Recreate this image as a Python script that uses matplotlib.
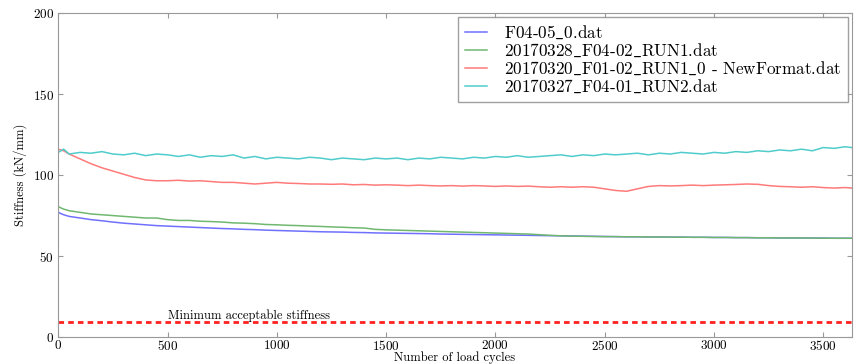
import matplotlib
matplotlib.use("Agg")
import matplotlib.pyplot as plt

plt.rcParams['font.family'] = ['cmr10', 'DejaVu Serif']
plt.rcParams['mathtext.fontset'] = 'cm'
plt.rcParams['axes.formatter.use_mathtext'] = True

cycles = [0, 25, 50, 100, 150, 200, 250, 300, 350, 400, 450, 500, 550, 600, 650, 700, 750, 800,
          850, 900, 950, 1000, 1050, 1100, 1150, 1200, 1250, 1300, 1350, 1400, 1450, 1500, 1550,
          1600, 1650, 1700, 1750, 1800, 1850, 1900, 1950, 2000, 2050, 2100, 2150, 2200, 2250, 2300,
          2350, 2400, 2450, 2500, 2550, 2600, 2650, 2700, 2750, 2800, 2850, 2900, 2950, 3000, 3050,
          3100, 3150, 3200, 3250, 3300, 3350, 3400, 3450, 3500, 3550, 3600, 3630]

f04_05 = [77, 75.5, 74.5, 73.5, 72.5, 71.8, 71, 70.3, 69.8, 69.3, 68.8, 68.5, 68.2, 67.9, 67.6, 67.3,
          67, 66.8, 66.5, 66.3, 66, 65.8, 65.6, 65.4, 65.2, 65, 64.9, 64.8, 64.6, 64.5, 64.3, 64.2,
          64.1, 64, 63.9, 63.8, 63.6, 63.5, 63.4, 63.3, 63.2, 63.1, 63, 62.9, 62.8, 62.7, 62.6, 62.5,
          62.4, 62.3, 62.2, 62.1, 62, 61.9, 61.9, 61.8, 61.8, 61.7, 61.7, 61.6, 61.6, 61.5, 61.5, 61.4,
          61.4, 61.3, 61.3, 61.2, 61.2, 61.2, 61.1, 61.1, 61.0, 61.0, 61.0]

run1_0328 = [80.5, 79, 78, 77, 76, 75.5, 75, 74.5, 74, 73.5, 73.5, 72.5, 72, 72, 71.5, 71.3, 71, 70.5,
             70.3, 70, 69.5, 69.3, 69, 68.8, 68.5, 68.3, 68, 67.8, 67.5, 67.3, 66.5, 66.2, 66, 65.8,
             65.6, 65.4, 65.2, 65, 64.8, 64.6, 64.4, 64.2, 64, 63.8, 63.6, 63.2, 62.8, 62.5, 62.3,
             62.2, 62.1, 62, 62, 61.9, 61.9, 61.8, 61.8, 61.7, 61.7, 61.6, 61.6, 61.5, 61.5, 61.4,
             61.4, 61.3, 61.3, 61.2, 61.2, 61.2, 61.1, 61.1, 61.0, 61.0, 61.0]

run1_0320 = [116, 115, 113, 110, 107, 104.5, 102.5, 100.5, 98.5, 97, 96.5, 96.5, 96.8, 96.3, 96.5, 96,
             95.5, 95.5, 95, 94.5, 95, 95.5, 95, 94.8, 94.5, 94.5, 94.3, 94.5, 94, 94.2, 93.8, 94, 93.8,
             93.5, 93.8, 93.5, 93.3, 93.5, 93.2, 93.5, 93.3, 93, 93.3, 93, 93.2, 92.8, 92.5, 92.8,
             92.5, 92.8, 92.5, 91.5, 90.5, 90, 91.5, 93, 93.5, 93.3, 93.5, 93.8, 93.5, 93.8, 94, 94.2,
             94.5, 94.3, 93.5, 93, 92.8, 92.5, 92.8, 92.3, 92, 92.3, 92]

run2_0327 = [114, 116, 113, 114, 113.5, 114.5, 113, 112.5, 113.5, 112, 113, 112.5, 111.5, 112.5, 111,
             112, 111.5, 112.5, 110.5, 111.5, 110, 111, 110.5, 110, 111, 110.5, 109.5, 110.5, 110,
             109.5, 110.5, 110, 110.5, 109.5, 110.5, 110, 111, 110.5, 110, 111, 110.5, 111.5, 111, 112,
             111, 111.5, 112, 112.5, 111.5, 112.5, 112, 113, 112.5, 113, 113.5, 112.5, 113.5, 113, 114,
             113.5, 113, 114, 113.5, 114.5, 114, 115, 114.5, 115.5, 115, 116, 115, 117, 116.5, 117.5, 117]

labels = ["F04-05_0.dat", "20170328_F04-02_RUN1.dat",
          "20170320_F01-02_RUN1_0 - NewFormat.dat", "20170327_F04-01_RUN2.dat"]
min_stiffness = 9
min_label = "Minimum acceptable stiffness"


def tex_safe(s):
    # cmr10 has no underscore glyph; draw it through mathtext
    return s.replace("_", r"$\_$")


fig = plt.figure(figsize=(8.56, 3.64), dpi=100)
ax = fig.add_axes([0.068, 0.074, 0.927, 0.890])

colors = ['#7070ff', '#70b870', '#ff7a7a', '#50cccc']
for ys, lab, c in zip([f04_05, run1_0328, run1_0320, run2_0327], labels, colors):
    ax.plot(cycles, ys, color=c, lw=1.1, label=tex_safe(lab))

ax.axhline(min_stiffness, color='#ff2020', lw=2, ls=(0, (2, 1.5)))
ax.text(500, min_stiffness + 0.3, min_label, fontsize=9, va='bottom', ha='left')

ax.set_xlim(0, 3630)
ax.set_ylim(0, 200)
ax.set_xticks([0, 500, 1000, 1500, 2000, 2500, 3000, 3500])
ax.set_yticks([0, 50, 100, 150, 200])
ax.tick_params(direction='in', top=True, right=True, labelsize=9.5, color='#999999')
ax.tick_params(axis='x', pad=1.5)
ax.tick_params(axis='y', pad=3)
for s in ax.spines.values():
    s.set_color('#999999')
ax.set_xlabel("Number of load cycles", fontsize=9, labelpad=-1.5)
ax.set_ylabel("Stiffness (kN/mm)", fontsize=9, labelpad=4)

leg = ax.legend(loc='upper right', fontsize=12.3, frameon=True, fancybox=False,
                edgecolor='#888888', handlelength=1.3, handletextpad=1.0,
                borderaxespad=0.2, labelspacing=0.05, borderpad=0.4)
leg.get_frame().set_linewidth(1)

fig.savefig("out.png", dpi=100)
